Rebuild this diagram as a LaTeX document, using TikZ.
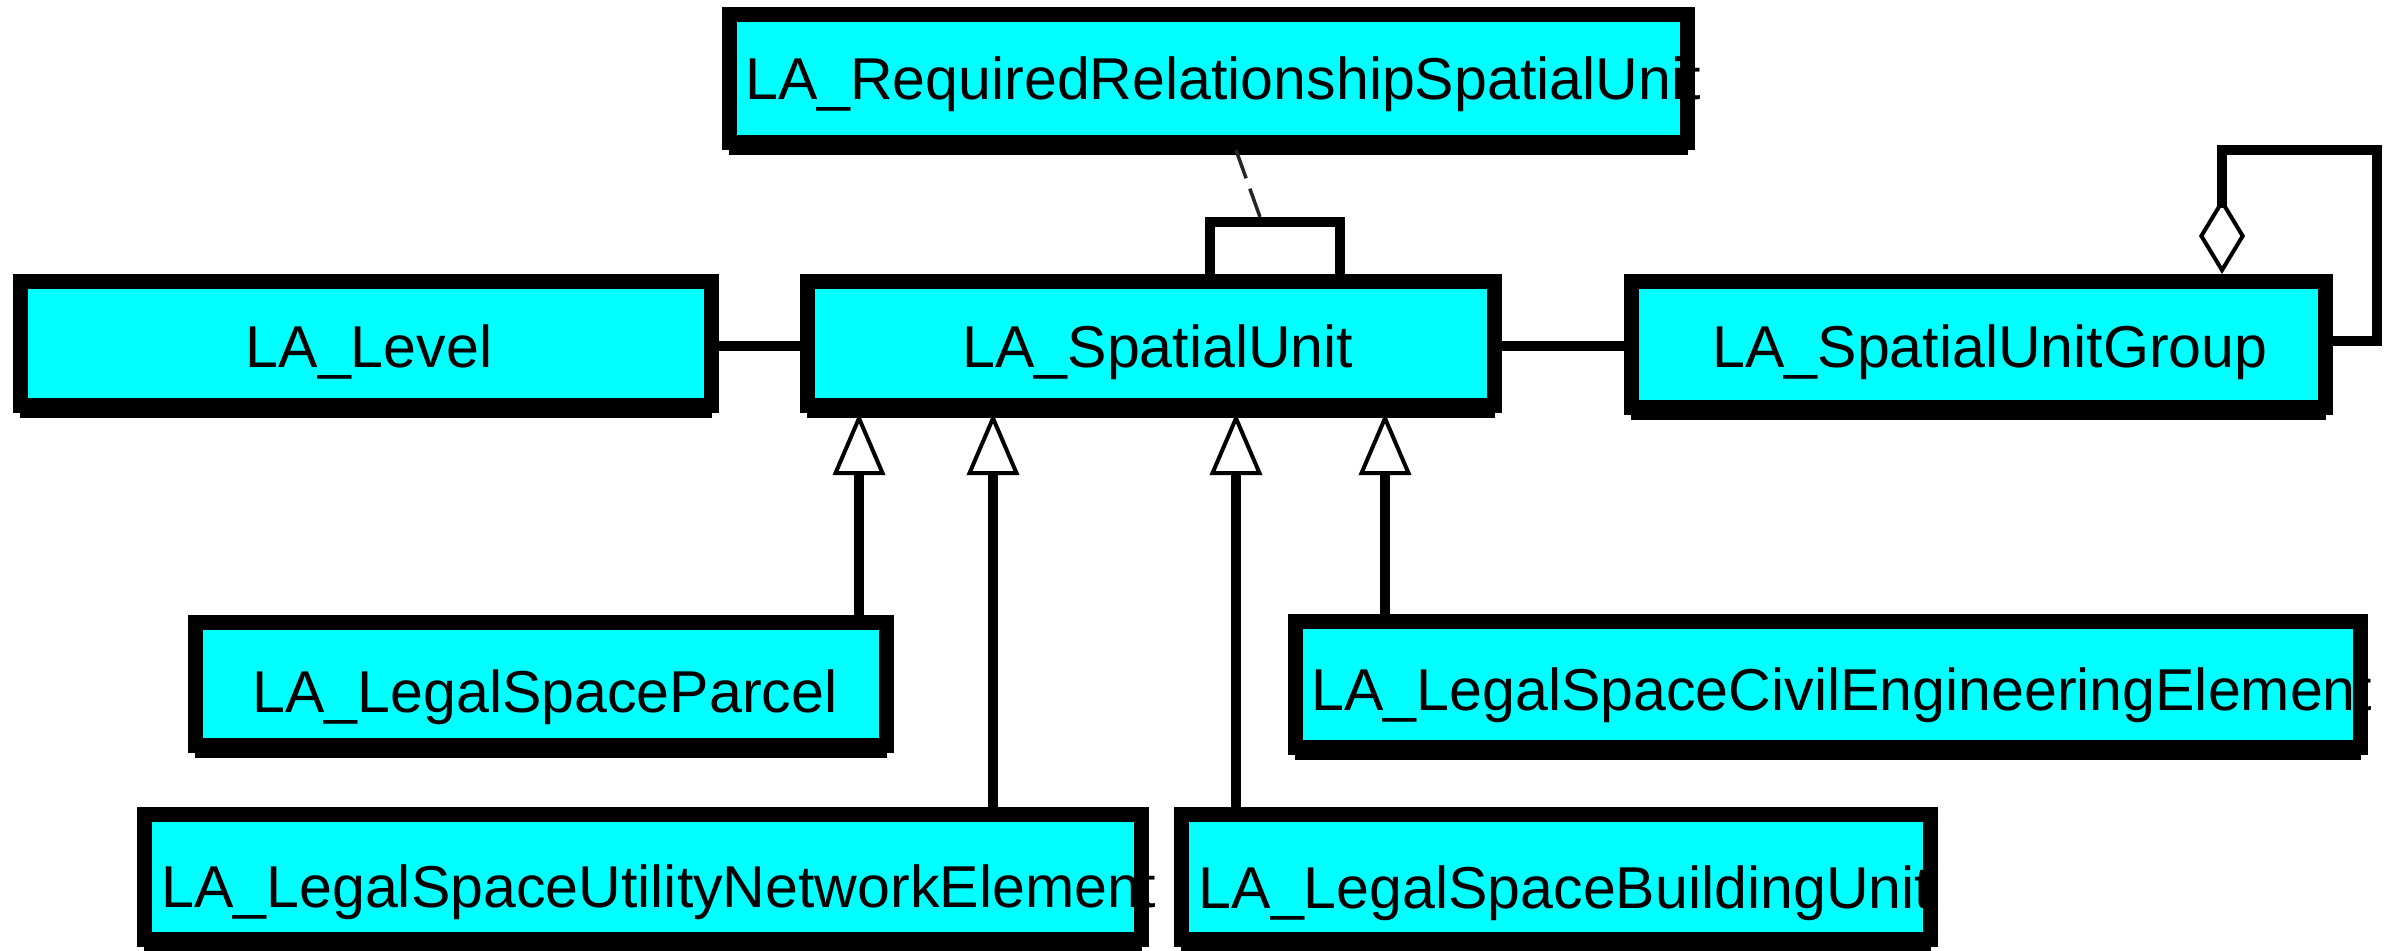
\documentclass[tikz,border=0pt]{standalone}
\usepackage{fontspec}
\setmainfont{Liberation Sans}
\usetikzlibrary{arrows.meta,shadows}
\definecolor{boxcyan}{RGB}{0,255,255}
\begin{document}
\begin{tikzpicture}[x=0.01cm,y=-0.01cm,
  umlbox/.style={draw=black, fill=boxcyan, line width=0.15cm, rectangle, inner sep=0pt,
    general shadow={fill=black, shadow yshift=-0.125cm}},
  lbl/.style={font=\fontsize{16.8pt}{20pt}\selectfont, anchor=base, inner sep=0pt, text=black},
  conn/.style={line width=0.1cm, line join=miter, draw=black},
  gen/.style={conn, -{Triangle[open, length=0.62cm, width=0.52cm, line width=0.04cm]}},
  agg/.style={conn, {Diamond[open, length=0.76cm, width=0.46cm, line width=0.04cm]}-},
  dep/.style={line width=0.035cm, draw=black!85, dash pattern=on 0.3cm off 0.11cm}
]
\useasboundingbox (0,0) rectangle (2400,950);
% boxes
\node[umlbox, minimum width=9.58cm, minimum height=1.28cm] (rr) at (1208.5,78.5) {};
\node[umlbox, minimum width=6.91cm, minimum height=1.24cm] (lvl) at (366,343.5) {};
\node[umlbox, minimum width=6.87cm, minimum height=1.24cm] (su) at (1151,343.5) {};
\node[umlbox, minimum width=6.94cm, minimum height=1.26cm] (sug) at (1978.5,344.5) {};
\node[umlbox, minimum width=6.91cm, minimum height=1.23cm] (parcel) at (541,684) {};
\node[umlbox, minimum width=10.65cm, minimum height=1.26cm] (civil) at (1828,684.5) {};
\node[umlbox, minimum width=9.97cm, minimum height=1.25cm] (util) at (643,877) {};
\node[umlbox, minimum width=7.49cm, minimum height=1.25cm] (bldg) at (1556,877) {};
% labels
\node[lbl] (rr-t) at (1223,99) {LA\_RequiredRelationshipSpatialUnit};
\node[lbl] (lvl-t) at (369,367) {LA\_Level};
\node[lbl] (su-t) at (1158,367) {LA\_SpatialUnit};
\node[lbl] (sug-t) at (1990,367) {LA\_SpatialUnitGroup};
\node[lbl] (parcel-t) at (545,712) {LA\_LegalSpaceParcel};
\node[lbl] (civil-t) at (1842,710) {LA\_LegalSpaceCivilEngineeringElement};
\node[lbl] (util-t) at (659,907) {LA\_LegalSpaceUtilityNetworkElement};
\node[lbl] (bldg-t) at (1565,908) {LA\_LegalSpaceBuildingUnit};
% associations
\draw[conn] (lvl.east |- 0,346) -- (su.west |- 0,346);
\draw[conn] (su.east |- 0,346) -- (sug.west |- 0,346);
\coordinate (loopL) at (1210,222);
\coordinate (loopR) at (1340,222);
\draw[conn] (su.north -| loopL) -- (loopL) -- (loopR) -- (su.north -| loopR);
\coordinate (depEnd) at (1260,217);
\draw[dep] (rr.south -| 1236,0) -- (depEnd);
% aggregation self-loop
\coordinate (aggA) at (2222,150);
\coordinate (aggB) at (2377,150);
\coordinate (aggC) at (2377,341);
\draw[agg] (sug.north -| aggA) -- (aggA) -- (aggB) -- (aggC) -- (sug.east |- aggC);
% generalizations
\draw[gen] (parcel.north -| 859,0) -- (su.south -| 859,0);
\draw[gen] (util.north -| 993,0) -- (su.south -| 993,0);
\draw[gen] (bldg.north -| 1236,0) -- (su.south -| 1236,0);
\draw[gen] (civil.north -| 1385,0) -- (su.south -| 1385,0);
\end{tikzpicture}
\end{document}
